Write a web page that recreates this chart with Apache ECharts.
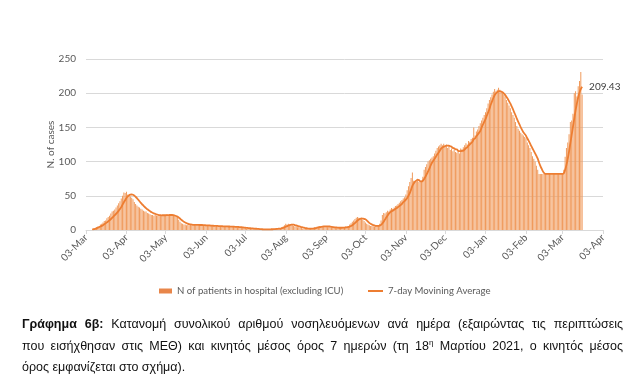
<!DOCTYPE html>
<html>
<head>
<meta charset="utf-8">
<script src="https://cdn.jsdelivr.net/npm/echarts@6/dist/echarts.min.js"></script>
<style>
  html, body { margin: 0; padding: 0; background: #fff; }
  #wrap { position: relative; width: 629px; height: 392px; overflow: hidden; }
  #chart { position: absolute; left: 0; top: 0; width: 629px; height: 392px; }
  #caption { position: absolute; left: 22px; top: 314px; width: 601px;
    font-family: "Liberation Sans", Arial, sans-serif; font-size: 12.5px; line-height: 21.5px; color: #111; }
  #caption .j { text-align: justify; text-align-last: justify; white-space: nowrap; }
  #caption sup { font-size: 8px; line-height: 0; }
</style>
</head>
<body>
<div id="wrap">
  <div id="chart"></div>
  <div id="caption">
    <div class="j"><b>Γράφημα 6β:</b> Κατανομή συνολικού αριθμού νοσηλευόμενων ανά ημέρα (εξαιρώντας τις περιπτώσεις</div>
    <div class="j">που εισήχθησαν στις ΜΕΘ) και κινητός μέσος όρος 7 ημερών (τη 18<sup>η</sup> Μαρτίου 2021, ο κινητός μέσος</div>
    <div>όρος εμφανίζεται στο σχήμα).</div>
  </div>
</div>
<script>
// Axis range (category days) and first data day
const axisStart = '2020-03-03';
const axisEnd = '2021-04-03';
const dataStart = '2020-03-08';
const monthNames = ['Jan','Feb','Mar','Apr','May','Jun','Jul','Aug','Sep','Oct','Nov','Dec'];
const yTicks = [0, 50, 100, 150, 200, 250];

// Daily patients in hospital (excluding ICU), per month
const hospMar20 = [2,2,3,4,5,6,8,9,11,13,14,17,19,21,24,27,28,30,33,36,39,42,46,50];
const hospApr20 = [55,54,56,52,50,49,47,45,41,38,36,34,33,31,30,28,27,27,25,24,23,22,22,21,22,21,21,22,21,22];
const hospMay20 = [22,21,22,23,22,21,22,22,21,22,20,18,15,12,10,9,8,8,7,8,7,8,7,7,8,7,7,8,7,7,7];
const hospJun20 = [7,6,7,7,6,6,6,6,6,5,6,6,5,5,6,5,5,5,6,5,5,4,5,5,4,5,4,4,4,3];
const hospJul20 = [3,3,3,2,2,3,2,2,2,1,2,1,1,1,1,1,1,1,1,1,1,1,2,1,2,2,2,2,3,3,4];
const hospAug20 = [5,7,9,8,9,8,7,7,6,5,5,4,4,3,3,2,2,2,2,1,2,2,3,3,4,4,5,5,6,5,6];
const hospSep20 = [6,5,5,4,5,4,4,3,3,3,4,3,3,4,3,4,4,5,5,6,8,10,12,14,16,18,19,18,17,16];
const hospOct20 = [15,13,11,9,8,7,6,6,5,5,6,6,7,9,14,22,25,24,26,28,27,30,32,31,33,35,36,38,40,42,44];
const hospNov20 = [46,48,52,58,64,70,76,84,72,71,70,72,70,71,72,78,88,92,96,100,102,104,106,108,112,116,120,122,124,126];
const hospDec20 = [124,126,122,125,120,123,117,119,115,118,114,113,116,112,119,118,121,124,127,125,130,129,133,135,150,138,144,147,152,156,160];
const hospJan21 = [164,168,172,178,185,190,194,198,202,206,203,205,208,205,202,200,198,195,190,186,182,178,172,168,164,158,152,148,145,142,140];
const hospFeb21 = [138,136,134,128,124,120,114,108,104,100,94,88,82,82,82,82,82,82,82,82,82,82,82,82,82,82,82,82];
const hospMar21 = [82,82,82,88,107,120,128,140,158,160,170,200,203,195,210,218,231,198];

// 7-day moving average, per month
const maMar20 = [1,1.3,1.8,2.5,3.3,4.1,5.1,6,7.1,8.4,9.7,11.1,12.6,14.1,15.9,17.7,19.7,21.6,23.5,25.7,28,30.7,33.4,37];
const maApr20 = [40.6,43.6,46.9,49.1,50.7,51.6,51.9,51.6,50.3,48.6,46.6,44.3,42,39.7,37.6,35.6,33.6,32,30.3,28.9,27.6,26.3,25.3,24.3,23.6,22.9,22.3,21.9,21.6,21.5];
const maMay20 = [21.6,21.6,21.6,21.7,21.8,21.9,21.9,21.9,21.6,21.2,20.5,19.6,18.4,16.8,15,13.5,12,11,10,9.3,8.6,8.2,7.8,7.6,7.5,7.5,7.4,7.4,7.3,7.3,7.3];
const maJun20 = [7.1,7,6.9,6.9,6.7,6.6,6.4,6.3,6.1,6,6,5.9,5.7,5.6,5.6,5.4,5.4,5.3,5.3,5.1,5.1,5,5,5,4.7,4.7,4.6,4.4,4.3,4.1];
const maJul20 = [3.9,3.6,3.4,3.1,2.9,2.7,2.6,2.4,2.3,2,2,1.7,1.6,1.4,1.3,1.1,1,1,1,1,1,1,1.1,1.1,1.3,1.4,1.6,1.7,2,2.1,2.6];
const maAug20 = [3.1,3.9,4.9,5.7,6.6,7.3,7.6,7.9,7.7,7.1,6.7,6,5.4,4.9,4.3,3.9,3.3,2.9,2.6,2.1,2,1.9,2,2.1,2.4,2.6,3.3,3.7,4.1,4.6,5];
const maSep20 = [5.3,5.3,5.3,5.1,5.3,5,4.7,4.3,4,3.7,3.7,3.4,3.3,3.3,3.3,3.4,3.6,3.7,4,4.4,5,5.9,7.1,8.6,10.1,12,13.9,15.3,16.3,16.9];
const maOct20 = [16.7,16.4,15.6,14.1,12.3,10.4,9,8,7.1,6.6,6.1,5.9,6.1,6.3,7.4,9.6,12.1,15.3,18.1,21.1,23.9,26,27.4,28.3,29.6,30.9,32,33.6,35,36.4,38.3];
const maNov20 = [40.6,42.3,44.3,46.9,50,53.8,59.1,64.6,68,70.7,72.1,73.6,72.9,71.3,71.1,72,74.6,77.9,81.6,85.6,89.6,94.3,98.3,101.1,104,107.1,110.3,113.1,116,118.9];
const maDec20 = [120.5,121.9,122.6,123.3,123.3,123.4,122.4,121.7,120.1,119.6,118,117.9,116,115.3,115.3,115.6,116.1,117.6,119.6,120.9,123.4,125.4,127,129,132.7,134,137,139.4,142,144.7,149.6];
const maJan21 = [154,158,162,167,172,177,183,188,193,197,199.7,201.5,202.8,203.1,202.5,201.3,199.7,197.6,194.9,191.9,188.5,185,180.9,176.6,172.1,167.6,162.8,158.3,154.4,150.1,146.4];
const maFeb21 = [143,140.4,137.9,134.1,130.6,126.9,123,119.1,115.7,112.1,108.3,104.3,98.6,93.7,89.6,85.7,83.1,82,82,82,82,82,82,82,82,82,82,82];
const maMar21 = [82,82,82,83,88,95,104,115,127,139,151,163,175,185,194,201,206,209.43];

const barName = 'N of patients in hospital (excluding ICU)';
const lineName = '7-day Movining Average';

// build category days
const DAY = 86400000;
const toUTC = s => { const p = s.split('-').map(Number); return Date.UTC(p[0], p[1]-1, p[2]); };
const categories = [];
for (let t = toUTC(axisStart); t <= toUTC(axisEnd); t += DAY) {
  categories.push(new Date(t).toISOString().slice(0, 10));
}
const offset = Math.round((toUTC(dataStart) - toUTC(axisStart)) / DAY);
const lead = new Array(offset).fill(null);
const hospData = lead.concat(hospMar20, hospApr20, hospMay20, hospJun20, hospJul20, hospAug20,
  hospSep20, hospOct20, hospNov20, hospDec20, hospJan21, hospFeb21, hospMar21);
const maData = lead.concat(maMar20, maApr20, maMay20, maJun20, maJul20, maAug20,
  maSep20, maOct20, maNov20, maDec20, maJan21, maFeb21, maMar21);

const isTickDay = (i, v) => v.slice(8, 10) === '03';
const FONT = 'Lato, "Open Sans", sans-serif';
const legendText = { fontFamily: FONT, fontSize: 9.6, color: '#595959' };

const chart = echarts.init(document.getElementById('chart'), null, { renderer: 'canvas' });
chart.setOption({
  animation: false,
  backgroundColor: '#fff',
  grid: { left: 86, right: 26, top: 59, bottom: 162, containLabel: false },
  legend: [
    {
      left: 159, top: 286, itemWidth: 13, itemHeight: 5, padding: 0,
      textStyle: legendText,
      data: [{ name: barName, icon: 'rect', itemStyle: { color: '#e8864a' } }]
    },
    {
      left: 368, top: 286, itemWidth: 15, itemHeight: 2, padding: 0,
      textStyle: legendText,
      data: [{ name: lineName, icon: 'rect', itemStyle: { color: '#ed7d31' } }]
    }
  ],
  xAxis: {
    type: 'category',
    data: categories,
    boundaryGap: false,
    axisLine: { show: true, lineStyle: { color: '#d9d9d9', width: 1 } },
    axisTick: { show: true, interval: isTickDay, length: 4, lineStyle: { color: '#d9d9d9' } },
    axisLabel: {
      interval: isTickDay, rotate: 45, margin: 6,
      fontFamily: FONT, fontSize: 10, color: '#595959',
      formatter: v => v.slice(8, 10) + '-' + monthNames[Number(v.slice(5, 7)) - 1]
    },
    splitLine: { show: false }
  },
  yAxis: {
    type: 'value', min: yTicks[0], max: yTicks[yTicks.length - 1], interval: yTicks[1] - yTicks[0],
    name: 'N. of cases', nameLocation: 'middle', nameGap: 30, nameRotate: 90, nameMoveOverlap: false,
    nameTextStyle: { fontFamily: FONT, fontSize: 10, color: '#595959' },
    axisLine: { show: false }, axisTick: { show: false },
    axisLabel: { fontFamily: FONT, fontSize: 10, color: '#595959', margin: 10 },
    splitLine: { lineStyle: { color: '#d9d9d9', width: 1 } }
  },
  series: [
    {
      name: barName, type: 'bar', data: hospData, barWidth: 0.5,
      itemStyle: { color: '#f09a5c' }, barGap: '0%'
    },
    {
      name: lineName, type: 'line', data: maData, symbol: 'none', smooth: 0.3,
      lineStyle: { color: '#ed7d31', width: 1.8 }, itemStyle: { color: '#ed7d31' },
      endLabel: { show: true, formatter: '209.43', distance: 7, fontFamily: FONT, fontSize: 10, color: '#404040' }
    }
  ]
});
</script>
</body>
</html>
